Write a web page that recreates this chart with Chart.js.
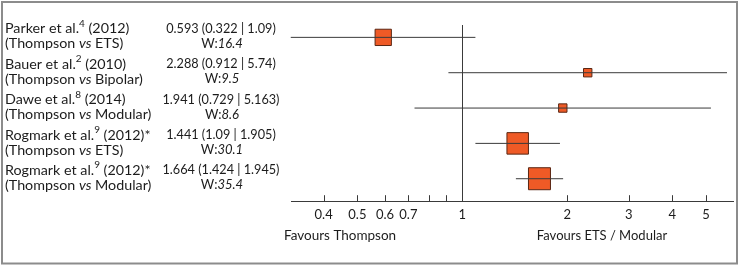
<!DOCTYPE html>
<html lang="en">
<head>
  <meta charset="utf-8">
  <title>Forest plot - Thompson vs ETS / Modular</title>
  <script src="https://cdn.jsdelivr.net/npm/chart.js@4.4.1/dist/chart.umd.min.js"></script>
  <style>
    body { margin: 0; background: #fff; }
    #wrap { width: 740px; height: 265px; }
  </style>
</head>
<body>
  <div id="wrap">
    <canvas id="forestChart" width="740" height="265"></canvas>
  </div>

<script>
  // study data
  var authors = ['Parker et al.', 'Bauer et al.', 'Dawe et al.', 'Rogmark et al.', 'Rogmark et al.'];
  var refs = ['4', '2', '8', '9', '9'];
  var years = [' (2012)', ' (2010)', ' (2014)', ' (2012)*', ' (2012)*'];
  var comparators = ['ETS', 'Bipolar', 'Modular', 'ETS', 'Modular'];
  var oddsRatio = [0.593, 2.288, 1.941, 1.441, 1.664];
  var lowerCI = [0.322, 0.912, 0.729, 1.09, 1.424];
  var upperCI = [1.09, 5.74, 5.163, 1.905, 1.945];
  var weights = [16.4, 9.5, 8.6, 30.1, 35.4];

  // axis ticks
  var tickValues = [0.4, 0.5, 0.6, 0.7, 0.8, 0.9, 1, 2, 3, 4, 5];
  var tickLabels = ['0.4', '0.5', '0.6', '0.7', '', '', '1', '2', '3', '4', '5'];

  // box side in px for each study (style)
  var boxSide = [16.3, 8.4, 8.4, 21.5, 22];

  var FONT = 'Lato, "Open Sans", sans-serif';
  var TEXT = '#1c1c1c';
  var AREA_RIGHT = 733.7;

  var datasets = [];
  for (var i = 0; i < oddsRatio.length; i++) {
    datasets.push({
      data: [{x: lowerCI[i], y: i}, {x: upperCI[i], y: i}],
      showLine: true,
      borderColor: '#3a3a3a',
      borderWidth: 1,
      pointRadius: 0,
      clip: false,
      order: 0
    });
  }
  datasets.push({
    data: oddsRatio.map(function(v, i) { return {x: v, y: i}; }),
    pointStyle: 'rect',
    pointRadius: boxSide.map(function(s) { return s / Math.SQRT2; }),
    backgroundColor: '#ef5a26',
    borderColor: '#5a2714',
    borderWidth: 1,
    showLine: false,
    clip: false,
    order: 1
  });

  // draw text made of normal / italic / superscript parts
  function drawRich(ctx, parts, x, y, align, size) {
    size = size || 14.3;
    function setFont(p) {
      if (p.s == 'sup') ctx.font = '10px ' + FONT;
      else if (p.s == 'i') ctx.font = 'italic ' + size + 'px ' + FONT;
      else ctx.font = size + 'px ' + FONT;
    }
    var total = 0;
    parts.forEach(function(p) { setFont(p); total += ctx.measureText(p.t).width; });
    var cx = align == 'center' ? x - total / 2 : x;
    parts.forEach(function(p) {
      setFont(p);
      ctx.fillText(p.t, cx, p.s == 'sup' ? y - 5 : y);
      cx += ctx.measureText(p.t).width;
    });
  }

  // layout keeps ~10px spare on the right, stretch the x scale out to the frame
  var stretchArea = {
    id: 'stretchArea',
    afterLayout: function(chart) {
      var xs = chart.scales.x;
      chart.chartArea.right = AREA_RIGHT;
      chart.chartArea.width = AREA_RIGHT - chart.chartArea.left;
      xs.right = AREA_RIGHT;
      xs.width = AREA_RIGHT - xs.left;
      xs.configure();
    }
  };

  var forestDecor = {
    id: 'forestDecor',
    afterDatasetsDraw: function(chart) {
      var ctx = chart.ctx;
      var xs = chart.scales.x, ys = chart.scales.y;
      var axisY = chart.chartArea.bottom;
      ctx.save();

      // tick marks pointing up
      ctx.strokeStyle = '#3a3a3a';
      ctx.lineWidth = 1;
      tickValues.forEach(function(v) {
        var px = Math.round(xs.getPixelForValue(v)) + 0.5;
        ctx.beginPath();
        ctx.moveTo(px, axisY - 6.5);
        ctx.lineTo(px, axisY);
        ctx.stroke();
      });

      // study labels and estimates
      ctx.fillStyle = TEXT;
      ctx.textBaseline = 'middle';
      for (var i = 0; i < authors.length; i++) {
        var ry = ys.getPixelForValue(i);
        drawRich(ctx, [{t: authors[i]}, {t: refs[i], s: 'sup'}, {t: years[i]}], 5, ry - 8.5, 'left');
        drawRich(ctx, [{t: '(Thompson '}, {t: 'vs', s: 'i'}, {t: ' ' + comparators[i] + ')'}], 5, ry + 6.5, 'left');
        var est = String(oddsRatio[i]) + ' (' + String(lowerCI[i]) + ' | ' + String(upperCI[i]) + ')';
        drawRich(ctx, [{t: est}], 221, ry - 8.5, 'center', 12.7);
        drawRich(ctx, [{t: 'W:'}, {t: String(weights[i]), s: 'i'}], 222, ry + 6.5, 'center', 13);
      }

      // favours labels
      drawRich(ctx, [{t: 'Favours Thompson'}], 284, 236, 'left', 13.5);
      drawRich(ctx, [{t: 'Favours ETS / Modular'}], 602, 236, 'center', 13);

      // outer frame
      ctx.strokeStyle = '#8c8c8c';
      ctx.lineWidth = 2;
      ctx.strokeRect(2, 2, 735, 261.5);
      ctx.restore();
    }
  };

  var forestChart = new Chart(document.getElementById('forestChart'), {
    type: 'scatter',
    data: { datasets: datasets },
    plugins: [stretchArea, forestDecor],
    options: {
      responsive: false,
      animation: false,
      layout: { padding: { left: 291, right: 6, top: 25, bottom: 0 } },
      plugins: {
        legend: { display: false },
        tooltip: { enabled: false }
      },
      scales: {
        x: {
          type: 'logarithmic',
          min: 0.3225,
          max: 6,
          bounds: 'data',
          afterFit: function(s) {
            s.height = 63.3;
            s.paddingLeft = 0;
            s.paddingRight = 0;
          },
          afterBuildTicks: function(s) {
            s.ticks = tickValues.map(function(v) { return {value: v}; });
          },
          border: { display: true, color: '#3a3a3a', width: 1 },
          grid: {
            drawTicks: false,
            drawOnChartArea: true,
            color: function(c) { return c.tick && c.tick.value === 1 ? '#3a3a3a' : 'rgba(0,0,0,0)'; },
            lineWidth: 1
          },
          ticks: {
            autoSkip: false,
            maxRotation: 0,
            padding: 5,
            color: TEXT,
            font: { family: FONT, size: 13 },
            callback: function(v, i) { return tickLabels[i]; }
          }
        },
        y: {
          type: 'linear',
          min: -0.35,
          max: 4.65,
          reverse: true,
          display: false
        }
      }
    }
  });
</script>
</body>
</html>
